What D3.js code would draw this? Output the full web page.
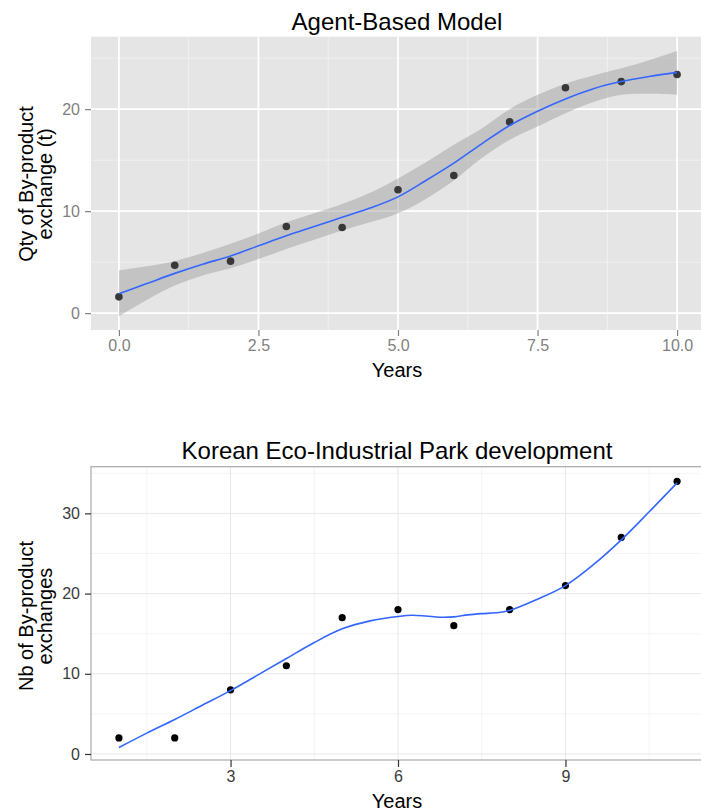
<!DOCTYPE html>
<html>
<head>
<meta charset="utf-8">
<script src="https://cdn.jsdelivr.net/npm/d3@7"></script>
<style>
  html, body { margin: 0; padding: 0; background: #fff; }
  svg { display: block; font-family: "Liberation Sans", Arial, Helvetica, sans-serif; }
</style>
</head>
<body>
<svg id="chart" width="701" height="812"></svg>
<script>
// ---------- Data: Agent-Based Model ----------
const abmYears = [0, 1, 2, 3, 4, 5, 6, 7, 8, 9, 10];
const abmQty = [1.6, 4.7, 5.1, 8.5, 8.4, 12.1, 13.5, 18.75, 22.1, 22.7, 23.4];
const abmFitX = [0, 0.5, 1, 1.5, 2, 2.5, 3, 3.5, 4, 4.5, 5, 5.5, 6, 6.5, 7, 7.5, 8, 8.5, 9, 9.5, 10];
const abmFit = [1.9, 2.9, 3.9, 4.8, 5.6, 6.6, 7.6, 8.5, 9.4, 10.3, 11.4, 13.0, 14.7, 16.6, 18.4, 19.8, 21.0, 22.0, 22.7, 23.2, 23.6];
const abmUpper = [4.2, 4.6, 5.1, 5.9, 6.8, 7.8, 8.9, 9.8, 10.7, 11.8, 13.2, 14.8, 16.5, 18.1, 20.0, 21.4, 22.5, 23.3, 24.0, 24.8, 25.7];
const abmLower = [-0.3, 1.3, 2.7, 3.7, 4.4, 5.3, 6.3, 7.2, 8.1, 8.9, 9.8, 11.2, 13.0, 15.2, 17.0, 18.3, 19.6, 20.7, 21.4, 21.5, 21.4];
const abmXTicks = [0, 2.5, 5, 7.5, 10];
const abmXTickLabels = ["0.0", "2.5", "5.0", "7.5", "10.0"];
const abmXMinor = [1.25, 3.75, 6.25, 8.75];
const abmYTicks = [0, 10, 20];
const abmYMinor = [5, 15, 25];

// ---------- Data: Korean Eco-Industrial Park ----------
const ekYears = [1, 2, 3, 4, 5, 6, 7, 8, 9, 10, 11];
const ekExchanges = [2, 2, 8, 11, 17, 18, 16, 18, 21, 27, 34];
const ekFitX = [1, 1.5, 2, 2.5, 3, 3.5, 4, 4.5, 5, 5.5, 6, 6.25, 6.5, 6.75, 7, 7.25, 7.5, 7.75, 8, 8.5, 9, 9.5, 10, 10.5, 11];
const ekFit = [0.8, 2.6, 4.3, 6.1, 7.9, 9.9, 11.9, 13.9, 15.6, 16.6, 17.15, 17.3, 17.2, 17.05, 17.1, 17.35, 17.5, 17.6, 17.9, 19.3, 21.0, 23.6, 26.7, 30.2, 33.8];
const ekXTicks = [3, 6, 9];
const ekXMinor = [1.5, 4.5, 7.5, 10.5];
const ekYTicks = [0, 10, 20, 30];
const ekYMinor = [5, 15, 25, 35];

const svg = d3.select("#chart");
const FONT = "'Liberation Sans', Arial, Helvetica, sans-serif";
const CURVE = d3.curveCatmullRom.alpha(0.5);

// ================= Top panel =================
const x1 = d3.scaleLinear().domain([-0.5, 10.5]).range([91, 705]);
const y1 = d3.scaleLinear().domain([-1.65, 27.1]).range([330, 36.7]);

const g1 = svg.append("g");
g1.append("rect")
  .attr("x", x1(-0.5)).attr("y", y1(27.1))
  .attr("width", x1(10.5) - x1(-0.5)).attr("height", y1(-1.65) - y1(27.1))
  .attr("fill", "#E5E5E5");

// minor grid
g1.selectAll(".vmin").data(abmXMinor).join("line")
  .attr("x1", d => x1(d)).attr("x2", d => x1(d))
  .attr("y1", y1(27.1)).attr("y2", y1(-1.65))
  .attr("stroke", "#F2F2F2").attr("stroke-width", 0.9);
g1.selectAll(".hmin").data(abmYMinor).join("line")
  .attr("y1", d => y1(d)).attr("y2", d => y1(d))
  .attr("x1", x1(-0.5)).attr("x2", x1(10.5))
  .attr("stroke", "#F2F2F2").attr("stroke-width", 0.9);
// major grid
g1.selectAll(".vmaj").data(abmXTicks).join("line")
  .attr("x1", d => x1(d)).attr("x2", d => x1(d))
  .attr("y1", y1(27.1)).attr("y2", y1(-1.65))
  .attr("stroke", "#FFFFFF").attr("stroke-width", 1.8);
g1.selectAll(".hmaj").data(abmYTicks).join("line")
  .attr("y1", d => y1(d)).attr("y2", d => y1(d))
  .attr("x1", x1(-0.5)).attr("x2", x1(10.5))
  .attr("stroke", "#FFFFFF").attr("stroke-width", 1.8);

// confidence band
const abmBand = abmFitX.map((d, i) => ({x: d, lo: abmLower[i], hi: abmUpper[i]}));
g1.append("path")
  .datum(abmBand)
  .attr("d", d3.area().x(d => x1(d.x)).y0(d => y1(d.lo)).y1(d => y1(d.hi)).curve(CURVE))
  .attr("fill", "#999999").attr("fill-opacity", 0.45);

// points
g1.selectAll(".pt").data(abmYears.map((d, i) => ({x: d, y: abmQty[i]}))).join("circle")
  .attr("cx", d => x1(d.x)).attr("cy", d => y1(d.y)).attr("r", 3.8)
  .attr("fill", "#383838");

// fit line
g1.append("path")
  .datum(abmFitX.map((d, i) => ({x: d, y: abmFit[i]})))
  .attr("d", d3.line().x(d => x1(d.x)).y(d => y1(d.y)).curve(CURVE))
  .attr("fill", "none").attr("stroke", "#3366FF").attr("stroke-width", 1.6);

// axes
const ax1 = g1.append("g").attr("transform", `translate(0,${y1(-1.65)})`)
  .call(d3.axisBottom(x1).tickValues(abmXTicks).tickFormat((d, i) => abmXTickLabels[i]).tickSizeOuter(0).tickSizeInner(6).tickPadding(4));
const ay1 = g1.append("g").attr("transform", `translate(${x1(-0.5)},0)`)
  .call(d3.axisLeft(y1).tickValues(abmYTicks).tickFormat(d3.format("d")).tickSizeOuter(0).tickSizeInner(6).tickPadding(5));
[ax1, ay1].forEach(a => {
  a.select(".domain").remove();
  a.selectAll(".tick line").attr("stroke", "#7F7F7F").attr("stroke-width", 1.2);
  a.selectAll(".tick text").attr("fill", "#7F7F7F").attr("font-size", 16).attr("font-family", FONT);
});

// titles / labels
svg.append("text").attr("x", 397).attr("y", 30).attr("text-anchor", "middle")
  .attr("font-size", 24).attr("fill", "#000").text("Agent-Based Model");
svg.append("text").attr("x", 397).attr("y", 377).attr("text-anchor", "middle")
  .attr("font-size", 20).attr("fill", "#000").text("Years");
const yl1 = svg.append("g").attr("transform", `translate(0,184) rotate(-90)`);
yl1.append("text").attr("x", 0).attr("y", 33).attr("text-anchor", "middle")
  .attr("font-size", 20).text("Qty of By-product");
yl1.append("text").attr("x", 0).attr("y", 52).attr("text-anchor", "middle")
  .attr("font-size", 20).text("exchange (t)");

// ================= Bottom panel =================
const x2 = d3.scaleLinear().domain([0.5, 11.5]).range([91, 705]);
const y2 = d3.scaleLinear().domain([-0.75, 35.82]).range([760, 466.7]);

const g2 = svg.append("g");
g2.append("rect")
  .attr("x", x2(0.5)).attr("y", y2(35.82))
  .attr("width", x2(11.5) - x2(0.5)).attr("height", y2(-0.75) - y2(35.82))
  .attr("fill", "#FFFFFF");

g2.selectAll(".vmin").data(ekXMinor).join("line")
  .attr("x1", d => x2(d)).attr("x2", d => x2(d))
  .attr("y1", y2(35.82)).attr("y2", y2(-0.75))
  .attr("stroke", "#F4F4F4").attr("stroke-width", 1);
g2.selectAll(".hmin").data(ekYMinor).join("line")
  .attr("y1", d => y2(d)).attr("y2", d => y2(d))
  .attr("x1", x2(0.5)).attr("x2", x2(11.5))
  .attr("stroke", "#F4F4F4").attr("stroke-width", 1);
g2.selectAll(".vmaj").data(ekXTicks).join("line")
  .attr("x1", d => x2(d)).attr("x2", d => x2(d))
  .attr("y1", y2(35.82)).attr("y2", y2(-0.75))
  .attr("stroke", "#E8E8E8").attr("stroke-width", 1);
g2.selectAll(".hmaj").data(ekYTicks).join("line")
  .attr("y1", d => y2(d)).attr("y2", d => y2(d))
  .attr("x1", x2(0.5)).attr("x2", x2(11.5))
  .attr("stroke", "#E8E8E8").attr("stroke-width", 1);

g2.selectAll(".pt").data(ekYears.map((d, i) => ({x: d, y: ekExchanges[i]}))).join("circle")
  .attr("cx", d => x2(d.x)).attr("cy", d => y2(d.y)).attr("r", 3.6)
  .attr("fill", "#000");

g2.append("path")
  .datum(ekFitX.map((d, i) => ({x: d, y: ekFit[i]})))
  .attr("d", d3.line().x(d => x2(d.x)).y(d => y2(d.y)).curve(CURVE))
  .attr("fill", "none").attr("stroke", "#3366FF").attr("stroke-width", 1.6);

// border
g2.append("rect")
  .attr("x", x2(0.5)).attr("y", y2(35.82))
  .attr("width", x2(11.5) - x2(0.5)).attr("height", y2(-0.75) - y2(35.82))
  .attr("fill", "none").attr("stroke", "#A8A8A8").attr("stroke-width", 1.2);

const ax2 = g2.append("g").attr("transform", `translate(0,${y2(-0.75)})`)
  .call(d3.axisBottom(x2).tickValues(ekXTicks).tickFormat(d3.format("d")).tickSizeOuter(0).tickSizeInner(7).tickPadding(4));
const ay2 = g2.append("g").attr("transform", `translate(${x2(0.5)},0)`)
  .call(d3.axisLeft(y2).tickValues(ekYTicks).tickFormat(d3.format("d")).tickSizeOuter(0).tickSizeInner(6).tickPadding(5));
[ax2, ay2].forEach(a => {
  a.select(".domain").remove();
  a.selectAll(".tick line").attr("stroke", "#333333").attr("stroke-width", 1.2);
  a.selectAll(".tick text").attr("fill", "#3A3A3A").attr("font-size", 16).attr("font-family", FONT);
});

svg.append("text").attr("x", 397).attr("y", 459).attr("text-anchor", "middle")
  .attr("font-size", 24).attr("fill", "#000").text("Korean Eco-Industrial Park development");
svg.append("text").attr("x", 397).attr("y", 808).attr("text-anchor", "middle")
  .attr("font-size", 20).attr("fill", "#000").text("Years");
const yl2 = svg.append("g").attr("transform", `translate(0,616) rotate(-90)`);
yl2.append("text").attr("x", 0).attr("y", 33).attr("text-anchor", "middle")
  .attr("font-size", 20).text("Nb of By-product");
yl2.append("text").attr("x", 0).attr("y", 52).attr("text-anchor", "middle")
  .attr("font-size", 20).text("exchanges");
</script>
</body>
</html>
